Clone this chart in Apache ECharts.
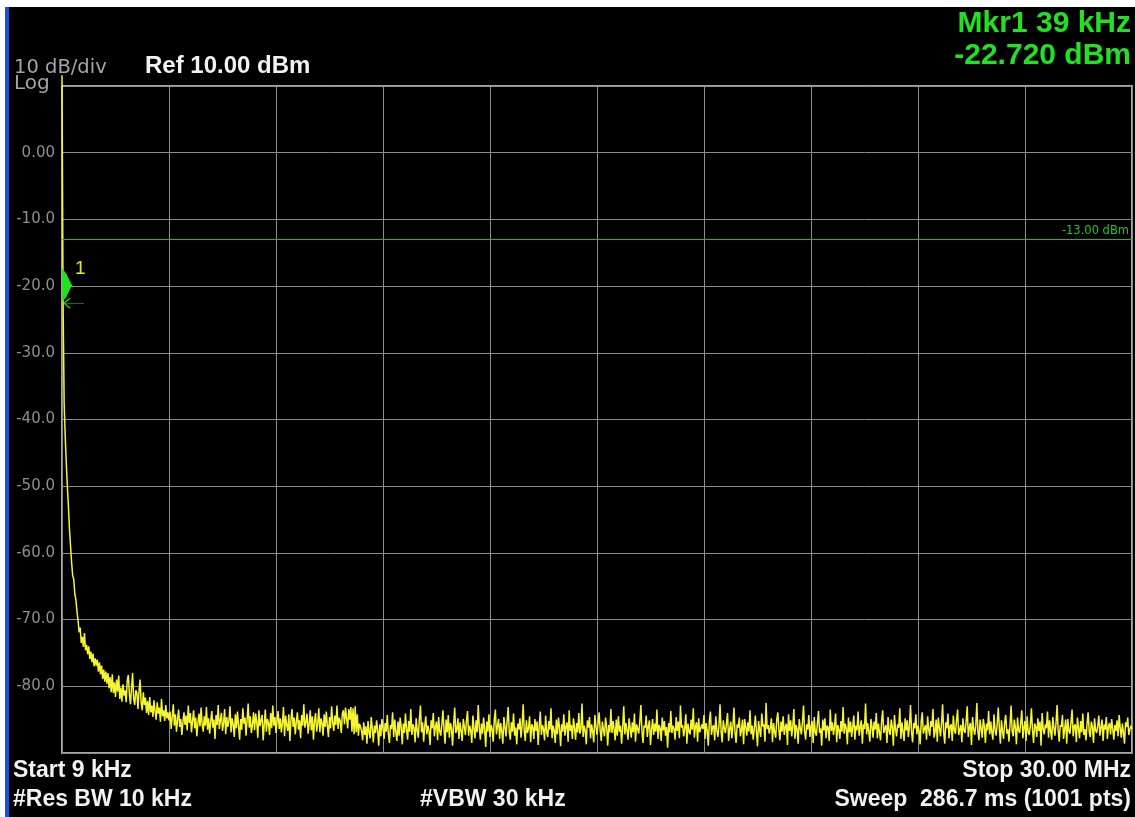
<!DOCTYPE html>
<html>
<head>
<meta charset="utf-8">
<title>Spectrum 9 kHz - 30 MHz</title>
<script src="https://cdn.jsdelivr.net/npm/echarts@6/dist/echarts.min.js"></script>
<style>
html, body { margin: 0; padding: 0; background: #fff; }
#main1 { width: 1135px; height: 817px; }
</style>
</head>
<body>
<div id="main1"></div>
<script>
// 仪器设置
var refLevel = 10;
var bottomLevel = -90;
var dbPerDiv = 10;
var sweepPts = 1001;
var limitLine = -13;
var markerPt = 1;
var markerVal = -22.72;

var yTickValues = [10, 0, -10, -20, -30, -40, -50, -60, -70, -80, -90];
var yTickLabels = ['', '0.00', '-10.0', '-20.0', '-30.0', '-40.0', '-50.0', '-60.0', '-70.0', '-80.0', ''];

// 迹线 (1001 点, dBm)
var trace = [
	11.6,-22.7,-37.5,-42.5,-46.5,-50.0,-53.0,-56.5,-59.0,-61.5,-63.4,-64.0,-66.2,-67.0,-68.8,-70.1,-71.9,-71.2,-73.5,-72.6,
	-74.1,-72.0,-74.6,-73.8,-75.2,-74.0,-75.9,-74.8,-76.4,-75.1,-77.0,-75.8,-76.9,-76.0,-77.8,-76.4,-78.2,-76.9,-78.9,-77.5,
	-79.3,-77.8,-79.6,-78.0,-80.3,-78.6,-80.9,-78.2,-81.0,-79.4,-81.6,-79.0,-80.8,-78.4,-81.9,-80.2,-82.3,-79.7,-81.4,-80.6,
	-82.4,-79.1,-78.3,-81.2,-82.7,-80.3,-78.0,-81.9,-82.8,-80.6,-81.0,-83.4,-80.7,-79.0,-82.5,-83.6,-80.9,-82.8,-81.7,-84.0,
	-82.2,-84.3,-81.6,-83.9,-82.9,-84.6,-82.1,-83.7,-85.0,-82.4,-84.1,-83.2,-85.3,-81.9,-84.5,-83.6,-85.2,-82.8,-84.8,-83.9,
	-85.1,-83.8,-86.4,-84.6,-82.7,-85.9,-84.2,-86.8,-85.0,-83.5,-86.1,-84.9,-87.3,-85.4,-83.9,-85.8,-84.4,-86.6,-82.9,-85.5,
	-84.0,-86.9,-85.2,-83.6,-86.3,-84.7,-87.5,-85.6,-84.1,-86.0,-83.2,-85.7,-86.8,-84.5,-85.9,-83.1,-86.5,-84.8,-87.1,-85.3,
	-83.7,-86.2,-85.0,-87.9,-84.3,-85.8,-82.8,-86.4,-85.1,-84.0,-86.7,-85.5,-83.4,-87.2,-84.6,-86.1,-85.2,-83.0,-86.9,-84.8,
	-85.7,-87.6,-84.2,-86.3,-83.8,-85.9,-88.0,-84.9,-86.5,-83.3,-85.6,-84.7,-87.4,-85.0,-82.6,-86.2,-84.5,-87.0,-85.8,-83.9,
	-86.6,-84.1,-85.4,-87.7,-83.6,-86.0,-85.1,-84.3,-88.1,-85.7,-83.5,-86.8,-84.9,-85.6,-87.3,-84.0,-86.3,-82.9,-85.9,-84.6,
	-87.0,-85.2,-83.7,-86.4,-84.8,-86.9,-85.5,-83.1,-87.5,-84.4,-85.8,-86.7,-84.2,-88.2,-85.0,-83.4,-86.1,-84.7,-87.2,-85.3,
	-83.9,-86.5,-85.1,-87.8,-84.3,-85.9,-82.7,-86.2,-85.4,-84.1,-87.1,-85.7,-83.6,-86.6,-84.5,-88.0,-85.2,-84.0,-86.8,-85.6,
	-83.3,-86.9,-84.8,-85.5,-87.4,-84.2,-86.1,-83.8,-85.9,-87.6,-84.6,-86.3,-83.0,-85.4,-86.7,-84.4,-85.8,-82.9,-86.4,-84.7,
	-85.2,-87.0,-84.1,-83.6,-85.7,-83.2,-84.9,-86.3,-83.4,-85.0,-83.1,-86.8,-83.3,-87.2,-83.0,-86.9,-84.2,-87.4,-85.6,-86.1,
	-86.7,-88.1,-85.4,-87.3,-86.0,-88.6,-85.2,-86.9,-87.8,-84.6,-86.3,-88.4,-85.9,-87.0,-85.1,-86.6,-88.9,-85.7,-87.5,-84.9,
	-86.2,-87.9,-85.5,-86.8,-84.3,-87.1,-88.5,-85.8,-86.4,-83.9,-87.6,-85.0,-86.9,-88.2,-85.3,-87.4,-84.7,-86.1,-88.7,-85.6,
	-87.0,-84.1,-86.5,-88.0,-85.2,-86.8,-83.4,-87.3,-85.7,-86.2,-88.4,-84.8,-86.6,-87.7,-85.0,-82.9,-86.9,-85.4,-88.3,-86.0,
	-84.5,-87.2,-85.9,-86.7,-88.8,-85.1,-86.3,-84.0,-87.5,-86.1,-85.3,-88.1,-84.6,-86.8,-87.4,-85.7,-83.6,-86.4,-88.6,-85.0,
	-86.9,-84.3,-87.7,-85.5,-86.2,-88.9,-85.8,-83.2,-87.0,-86.5,-84.8,-87.9,-85.4,-86.7,-88.2,-84.9,-86.0,-87.3,-85.2,-83.7,
	-87.4,-85.9,-86.6,-88.5,-84.4,-86.3,-87.8,-85.1,-86.9,-82.8,-86.2,-88.0,-85.6,-87.1,-84.7,-86.5,-89.1,-85.3,-86.8,-84.2,
	-87.6,-85.8,-86.4,-88.3,-85.0,-83.5,-87.2,-86.0,-84.9,-87.9,-85.5,-86.7,-88.6,-84.6,-86.1,-87.5,-85.2,-83.1,-86.9,-88.0,
	-85.4,-86.8,-84.1,-87.4,-86.2,-88.7,-85.6,-86.5,-84.8,-87.7,-85.9,-82.7,-86.6,-88.2,-85.1,-87.0,-86.3,-84.5,-88.4,-85.7,
	-86.1,-87.9,-84.9,-86.7,-85.3,-88.8,-86.0,-83.8,-87.3,-85.8,-86.4,-88.1,-84.4,-86.9,-87.6,-85.2,-86.5,-83.3,-87.8,-85.9,
	-86.6,-88.5,-85.0,-87.2,-84.7,-86.3,-89.0,-85.7,-86.8,-84.2,-87.4,-86.1,-85.4,-88.3,-83.6,-86.7,-85.8,-87.9,-84.8,-86.2,
	-88.0,-85.5,-86.9,-84.0,-87.1,-86.4,-82.6,-87.6,-85.9,-86.6,-88.7,-85.1,-86.2,-84.6,-87.8,-85.7,-86.8,-88.4,-84.3,-86.0,
	-87.3,-85.6,-83.9,-86.7,-88.2,-85.3,-86.5,-87.5,-84.7,-86.1,-88.9,-85.8,-86.9,-83.4,-87.0,-85.2,-86.4,-88.1,-85.0,-87.4,
	-84.5,-86.8,-85.9,-88.6,-86.2,-83.0,-87.2,-85.5,-86.6,-88.0,-84.8,-86.3,-87.7,-85.4,-86.9,-84.1,-88.3,-85.7,-86.4,-87.1,
	-85.3,-82.8,-86.7,-88.5,-85.9,-86.2,-84.4,-87.6,-86.0,-85.1,-88.8,-86.5,-84.9,-87.3,-85.6,-86.8,-83.5,-87.9,-85.8,-86.3,
	-88.2,-84.7,-86.6,-85.2,-87.4,-86.1,-89.2,-85.5,-86.9,-83.7,-87.0,-85.9,-86.4,-88.0,-84.6,-86.7,-85.3,-87.8,-82.9,-86.2,
	-85.8,-87.5,-86.3,-84.2,-88.6,-85.6,-86.8,-87.2,-85.0,-86.5,-83.3,-87.7,-86.0,-85.4,-88.3,-84.8,-86.9,-87.1,-85.7,-86.4,
	-84.3,-87.9,-85.5,-86.7,-88.9,-85.2,-83.8,-87.3,-86.1,-85.8,-88.1,-84.5,-86.6,-87.6,-85.9,-82.7,-86.8,-88.4,-85.1,-86.3,
	-87.0,-85.6,-84.0,-88.2,-86.4,-85.3,-87.8,-86.0,-83.2,-86.9,-88.5,-85.7,-86.2,-84.7,-87.5,-86.6,-85.0,-88.7,-84.9,-86.1,
	-87.4,-85.4,-86.8,-83.6,-87.2,-85.9,-88.0,-86.3,-84.4,-86.7,-89.0,-85.2,-86.5,-87.6,-84.1,-86.0,-85.7,-88.3,-82.5,-86.4,
	-85.8,-87.1,-86.2,-84.8,-88.4,-85.5,-86.9,-87.7,-85.0,-83.9,-86.6,-88.1,-85.3,-86.8,-84.5,-87.3,-86.1,-85.6,-88.8,-84.2,
	-86.7,-85.1,-87.5,-86.0,-83.4,-87.9,-85.8,-86.4,-88.6,-84.9,-86.3,-87.2,-85.4,-82.9,-86.8,-88.0,-85.7,-86.5,-84.3,-87.6,
	-86.1,-85.2,-88.5,-84.6,-86.9,-87.4,-85.5,-83.7,-87.0,-86.3,-88.9,-85.0,-86.6,-84.8,-87.8,-85.9,-86.2,-88.2,-83.5,-86.7,
	-85.4,-87.3,-86.0,-84.1,-88.4,-85.8,-86.5,-87.9,-85.2,-86.8,-83.1,-87.1,-85.6,-86.3,-88.7,-84.7,-86.9,-85.3,-87.6,-86.1,
	-84.4,-88.0,-85.9,-86.6,-83.8,-87.4,-86.2,-85.1,-88.6,-85.7,-86.4,-82.6,-87.2,-85.5,-86.8,-88.3,-84.9,-86.0,-87.7,-85.3,
	-86.5,-84.0,-87.8,-85.6,-86.9,-88.1,-85.2,-83.6,-87.0,-86.3,-85.8,-88.5,-84.6,-86.7,-87.3,-85.0,-86.1,-88.9,-84.3,-86.4,
	-87.5,-85.7,-86.2,-83.3,-87.9,-85.4,-86.8,-88.2,-84.8,-86.6,-85.1,-87.6,-86.0,-82.8,-86.9,-88.4,-85.5,-86.3,-84.2,-87.2,
	-85.9,-86.7,-88.7,-85.3,-83.9,-87.1,-86.4,-85.8,-88.0,-84.5,-86.5,-87.4,-85.2,-86.1,-83.4,-87.7,-86.8,-85.0,-88.3,-84.7,
	-86.2,-87.5,-85.6,-82.7,-86.9,-88.6,-85.4,-86.3,-84.1,-87.8,-86.0,-85.7,-88.2,-84.4,-86.6,-87.1,-85.1,-83.5,-87.3,-86.5,
	-85.8,-88.4,-84.8,-86.7,-87.0,-85.2,-83.0,-87.6,-86.1,-85.5,-88.8,-84.6,-86.4,-87.3,-85.9,-82.5,-86.8,-88.1,-85.0,-86.3,
	-87.7,-84.9,-86.0,-88.5,-85.6,-86.6,-83.7,-87.2,-85.3,-86.9,-88.0,-84.2,-86.5,-87.4,-85.7,-83.2,-86.2,-88.6,-85.1,-86.8,
	-87.9,-85.4,-84.3,-87.1,-86.4,-88.3,-85.8,-82.9,-86.7,-87.5,-85.0,-86.1,-88.7,-84.7,-86.6,-87.0,-85.5,-83.6,-87.8,-86.2,
	-85.2,-88.2,-84.5,-86.9,-87.3,-85.9,-83.3,-86.5,-88.5,-85.6,-86.0,-87.6,-84.8,-86.7,-85.3,-88.9,-84.0,-86.4,-87.2,-85.7,
	-86.3,-83.8,-87.7,-85.1,-86.8,-88.0,-84.6,-86.2,-87.4,-85.5,-82.8,-86.6,-88.3,-85.8,-86.1,-84.3,-87.9,-86.5,-85.0,-88.6,
	-84.9,-86.7,-87.1,-85.4,-83.5,-87.5,-86.0,-85.7,-88.4,-84.7,-86.3,-87.8,-85.2,-86.9,-84.1,-87.3,-86.4,-88.1,-85.6,-83.9,
	-86.8,-87.6,-85.3,-86.1,-88.5,-84.8,-86.6,-87.0,-85.9,-84.4,-87.4,-86.2,-85.0,-88.2,-85.7,-86.5,-84.6,-87.9,-86.0,-85.5,
	-87.2,-84.9,-86.4,-88.0,-85.8,-86.7,-85.1,-87.5,-84.3,-86.3,-87.7,-85.6,-86.9,-88.6,-85.4,-86.1,-84.7,-87.3,-86.5,-85.9,
	-86.4
];

var topTexts = ['Mkr1 39 kHz', '-22.720 dBm'];
var bottomLeft = ['Start 9 kHz', '#Res BW 10 kHz'];
var bottomMid = '#VBW 30 kHz';
var bottomRight = ['Stop 30.00 MHz', 'Sweep  286.7 ms (1001 pts)'];

var GREEN = '#22e022';
var WHITE = '#f2f2f2';
var GRAY = '#a4a4a4';
var BOLD = 'bold 23px "Liberation Sans", Arial, sans-serif';

function chart2() {
	var myChart = echarts.init(document.getElementById('main1'));

	var option = {
		backgroundColor: '#000',
		animation: false,
		grid: {
			left: 62, top: 86, width: 1070, height: 667,
			show: true, borderColor: '#a6a6a6', borderWidth: 2
		},
		xAxis: {
			type: 'value',
			min: 0, max: sweepPts - 1, interval: (sweepPts - 1) / 10,
			axisLabel: { show: false },
			axisTick: { show: false },
			axisLine: { show: false },
			splitLine: { show: true, lineStyle: { color: '#8c8c8c', width: 1 } }
		},
		yAxis: {
			type: 'value',
			min: bottomLevel, max: refLevel, interval: dbPerDiv,
			axisTick: { show: false },
			axisLine: { show: false },
			axisLabel: {
				color: '#8e8e8e',
				fontSize: 15,
				fontFamily: '"DejaVu Sans", sans-serif',
				margin: 7,
				formatter: function(v) {
					var i = yTickValues.indexOf(v);
					return i < 0 ? '' : yTickLabels[i];
				}
			},
			splitLine: { show: true, lineStyle: { color: '#8c8c8c', width: 1 } }
		},
		series: [{
			type: 'line',
			data: trace.map(function(v, i) { return [i, v]; }),
			symbol: 'none',
			clip: false,
			z: 3,
			lineStyle: { color: '#f6f630', width: 1.5 },
			markLine: {
				silent: true,
				symbol: 'none',
				lineStyle: { color: '#26b826', width: 1.2, type: 'solid' },
				label: {
					show: true,
					position: 'insideEndTop',
					formatter: limitLine.toFixed(2) + ' dBm',
					color: '#2cc02c',
					fontSize: 11.5,
					fontFamily: '"DejaVu Sans", sans-serif',
					distance: [3, 2]
				},
				data: [{ yAxis: limitLine }]
			},
			markPoint: {
				silent: true,
				data: [{
					coord: [markerPt, markerVal],
					symbol: 'path://M0,0 L4,5 L10,17 L4,29 L0,34 Z',
					symbolSize: [10, 34],
					symbolOffset: [4, -19],
					itemStyle: { color: GREEN },
					label: {
						show: true, formatter: '1', position: 'right', distance: 3,
						offset: [0, -16], color: '#e8e820', fontSize: 19,
						fontFamily: '"Liberation Sans", Arial, sans-serif'
					}
				}, {
					coord: [markerPt, markerVal],
					symbol: 'path://M0,5 L20,5 M0,5 L6,0 M0,5 L6,10',
					symbolSize: [20, 10],
					symbolOffset: [11, -1],
					itemStyle: { color: 'none', borderColor: GREEN, borderWidth: 1 },
					label: { show: false }
				}]
			}
		}],
		graphic: [
			{ type: 'rect', left: 0, top: 0, shape: { width: 1135, height: 7 }, style: { fill: '#fff' } },
			{ type: 'rect', left: 0, top: 0, shape: { width: 5, height: 817 }, style: { fill: '#fff' } },
			{ type: 'rect', left: 5, top: 7, shape: { width: 4, height: 810 }, style: { fill: '#1b4fe0' } },
			{ type: 'text', x: 14, y: 68, style: { text: dbPerDiv + ' dB/div', fill: GRAY, font: '19.5px "DejaVu Sans", sans-serif', verticalAlign: 'middle' } },
			{ type: 'text', x: 14, y: 84, style: { text: 'Log', fill: GRAY, font: '20px "DejaVu Sans", sans-serif', verticalAlign: 'middle' } },
			{ type: 'text', x: 145, y: 66, style: { text: 'Ref ' + refLevel.toFixed(2) + ' dBm', fill: WHITE, font: 'bold 24px "Liberation Sans", Arial, sans-serif', verticalAlign: 'middle' } },
			{ type: 'text', x: 1131, y: 24, style: { text: topTexts[0], fill: GREEN, font: 'bold 30px "Liberation Sans", Arial, sans-serif', align: 'right', verticalAlign: 'middle' } },
			{ type: 'text', x: 1131, y: 56, style: { text: topTexts[1], fill: GREEN, font: 'bold 30px "Liberation Sans", Arial, sans-serif', align: 'right', verticalAlign: 'middle' } },
			{ type: 'text', x: 13, y: 771, style: { text: bottomLeft[0], fill: WHITE, font: BOLD, verticalAlign: 'middle' } },
			{ type: 'text', x: 13, y: 800, style: { text: bottomLeft[1], fill: WHITE, font: BOLD, verticalAlign: 'middle' } },
			{ type: 'text', x: 420, y: 800, style: { text: bottomMid, fill: WHITE, font: BOLD, verticalAlign: 'middle' } },
			{ type: 'text', x: 1131, y: 771, style: { text: bottomRight[0], fill: WHITE, font: BOLD, align: 'right', verticalAlign: 'middle' } },
			{ type: 'text', x: 1131, y: 800, style: { text: bottomRight[1], fill: WHITE, font: BOLD, align: 'right', verticalAlign: 'middle' } }
		]
	};
	myChart.setOption(option);
}

chart2();
</script>
</body>
</html>
